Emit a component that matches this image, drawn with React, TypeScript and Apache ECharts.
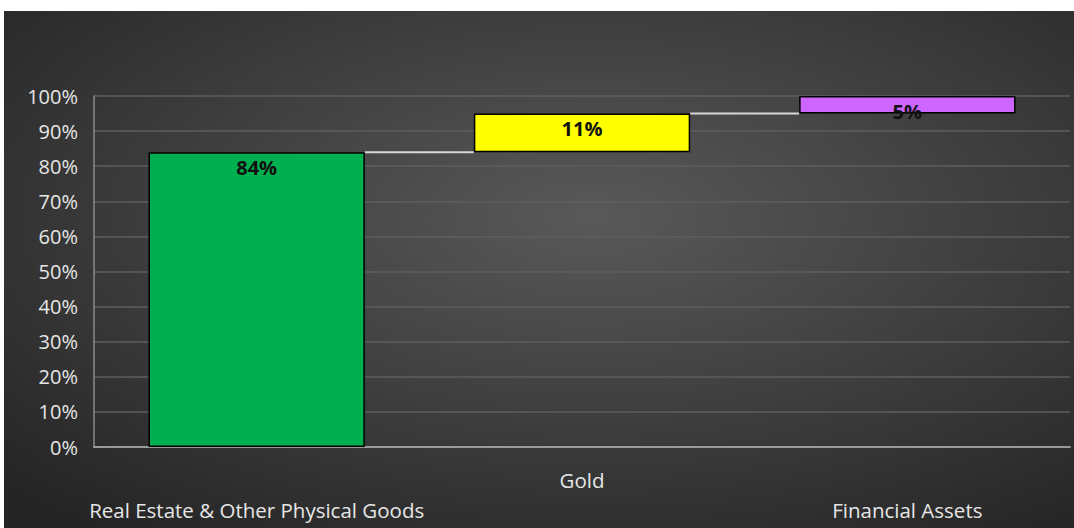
import React, { useEffect, useRef } from "react";
import * as echarts from "echarts";

const categories = ["Real Estate & Other Physical Goods", "Gold", "Financial Assets"];
const shares = [84, 11, 5];
const barColors = ["#00b050", "#ffff00", "#cc66ff"];
const yTicks = [0, 10, 20, 30, 40, 50, 60, 70, 80, 90, 100];

export default function App() {
  const ref = useRef<HTMLDivElement>(null);
  useEffect(() => {
    if (!ref.current) return;
    const chart = echarts.init(ref.current, null, { renderer: "svg" });
    const bases: number[] = [];
    let acc = 0;
    shares.forEach((v) => {
      bases.push(acc);
      acc += v;
    });
    const tops = shares.map((v, i) => bases[i] + v);
    const font = "'Open Sans', 'Noto Sans', sans-serif";
    chart.setOption({
      animation: false,
      backgroundColor: new echarts.graphic.RadialGradient(0.55, 0.4, 0.75, [
        { offset: 0, color: "#595959" },
        { offset: 1, color: "#252525" },
      ]),
      grid: { left: 90, right: 4, top: 85, bottom: 81, containLabel: false },
      xAxis: {
        type: "category",
        data: categories,
        axisLine: { lineStyle: { color: "#9a9a9a", width: 2 } },
        axisTick: { show: false },
        axisLabel: {
          interval: 0,
          color: "#e6e6e6",
          fontFamily: font,
          fontSize: 20.5,
          lineHeight: 30,
          margin: 18,
          formatter: (v: string, i: number) => (i % 2 === 0 ? "\n" + v : v),
        },
      },
      yAxis: {
        type: "value",
        min: yTicks[0],
        max: yTicks[yTicks.length - 1],
        interval: 10,
        axisLine: { show: true, lineStyle: { color: "#8a8a8a", width: 1.5 } },
        axisTick: { show: false },
        splitLine: { lineStyle: { color: "#5e5e5e", width: 1.5 } },
        axisLabel: {
          color: "#e6e6e6",
          fontFamily: font,
          fontSize: 20,
          margin: 16,
          formatter: (v: number) => v + "%",
        },
      },
      series: [
        {
          type: "bar",
          stack: "w",
          barWidth: "66.5%",
          data: bases,
          itemStyle: { color: "transparent" },
          silent: true,
        },
        {
          type: "bar",
          stack: "w",
          data: shares.map((v, i) => ({
            value: v,
            itemStyle: { color: barColors[i] },
          })),
          itemStyle: { borderColor: "#000", borderWidth: 1.5 },
          label: {
            show: true,
            position: "insideTop",
            distance: 5,
            color: "#111",
            fontWeight: "bold",
            fontFamily: font,
            fontSize: 20,
            formatter: (p: any) => p.value + "%",
          },
          z: 3,
        },
        {
          type: "custom",
          data: tops.slice(0, -1).map((t, i) => [i, t]),
          z: 2,
          renderItem: (params: any, api: any) => {
            const i = api.value(0);
            const y = api.value(1);
            const p1 = api.coord([i, y]);
            const p2 = api.coord([i + 1, y]);
            const bw = api.size([1, 0])[0] * 0.665;
            return {
              type: "line",
              shape: { x1: p1[0] + bw / 2, y1: p1[1], x2: p2[0] - bw / 2, y2: p2[1] },
              style: { stroke: "#d8d8d8", lineWidth: 2 },
            };
          },
        },
      ],
    });
    return () => chart.dispose();
  }, []);
  return (
    <div
      ref={ref}
      style={{ position: "absolute", left: 4, top: 11, width: 1070, height: 517 }}
    />
  );
}
